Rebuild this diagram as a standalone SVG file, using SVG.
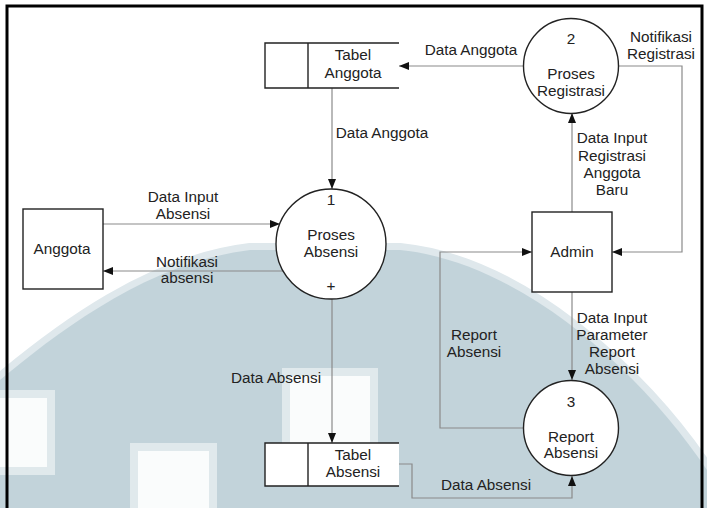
<svg xmlns="http://www.w3.org/2000/svg" width="707" height="508" viewBox="0 0 707 508">
<defs>
<style>
text{font-family:"Liberation Sans",Arial,sans-serif;font-size:15.3px;fill:#222;text-anchor:middle}
.c{fill:none;stroke:#8a8a8a;stroke-width:1.2}
.s{fill:#fff;stroke:#222;stroke-width:1.4}
.st{fill:none;stroke:#222;stroke-width:1.4}
.w{fill:#fafcfc;stroke:#e0e9ec;stroke-width:8}
</style>
<marker id="a" viewBox="0 0 10 8" refX="10" refY="4" markerWidth="10" markerHeight="8" markerUnits="userSpaceOnUse" orient="auto">
<path d="M0,0L10,4L0,8z" fill="#111"/>
</marker>
</defs>
<rect width="707" height="508" fill="#fff"/>
<g id="watermark">
<path d="M0,380C60,330 150,262 250,250H400C520,262 640,370 707,470V508H0Z" fill="#c2d3da" stroke="#dfe8ec" stroke-width="14"/>
<path d="M0,380C60,330 150,262 250,250H400C520,262 640,370 707,470V508H0Z" fill="#c2d3da"/>
<rect class="w" x="-4" y="394" width="55" height="77"/>
<rect class="w" x="134" y="447" width="79" height="70"/>
<rect class="w" x="286" y="372" width="88" height="80"/>
</g>
<path d="M7,508V6H702V508" fill="none" stroke="#000" stroke-width="3"/>
<g id="connectors">
<path class="c" d="M524,66H399" marker-end="url(#a)"/>
<path class="c" d="M619,66H682V252H612" marker-end="url(#a)"/>
<path class="c" d="M332,88V189" marker-end="url(#a)"/>
<path class="c" d="M103,224H280" marker-end="url(#a)"/>
<path class="c" d="M283,271H103" marker-end="url(#a)"/>
<path class="c" d="M332,299V443" marker-end="url(#a)"/>
<path class="c" d="M399,464H412V498H572V476" marker-end="url(#a)"/>
<path class="c" d="M572,212V113" marker-end="url(#a)"/>
<path class="c" d="M572,292V380" marker-end="url(#a)"/>
<path class="c" d="M524,428H440V252H532" marker-end="url(#a)"/>
<text x="471" y="55">Data Anggota</text>
<text x="661" y="42">Notifikasi</text>
<text x="661" y="59">Registrasi</text>
<text x="382" y="138">Data Anggota</text>
<text x="183" y="202">Data Input</text>
<text x="183" y="219">Absensi</text>
<text x="187" y="267">Notifikasi</text>
<text x="187" y="283">absensi</text>
<text x="276" y="383">Data Absensi</text>
<text x="486" y="490">Data Absensi</text>
<text x="612" y="143">Data Input</text>
<text x="612" y="161">Registrasi</text>
<text x="612" y="178">Anggota</text>
<text x="612" y="195">Baru</text>
<text x="612" y="323">Data Input</text>
<text x="612" y="340">Parameter</text>
<text x="612" y="357">Report</text>
<text x="612" y="374">Absensi</text>
<text x="474" y="340">Report</text>
<text x="474" y="357">Absensi</text>
</g>
<g id="tabel-anggota">
<rect x="265" y="43" width="134" height="45" fill="#fff"/>
<path class="st" d="M399,43H265V88H399M308,43V88"/>
<text x="353" y="60">Tabel</text>
<text x="353" y="78">Anggota</text>
</g>
<g id="proses-registrasi">
<circle class="s" cx="571" cy="66" r="47.5"/>
<text x="571" y="44">2</text>
<text x="571" y="79">Proses</text>
<text x="571" y="96">Registrasi</text>
</g>
<g id="proses-absensi">
<circle class="s" cx="331" cy="244" r="55"/>
<text x="331" y="205">1</text>
<text x="331" y="240">Proses</text>
<text x="331" y="257">Absensi</text>
<text x="331" y="291">+</text>
</g>
<g id="anggota">
<rect class="s" x="23" y="209" width="80" height="80"/>
<text x="62" y="254">Anggota</text>
</g>
<g id="admin">
<rect class="s" x="532" y="212" width="80" height="80"/>
<text x="572" y="257">Admin</text>
</g>
<g id="tabel-absensi">
<rect x="265" y="443" width="134" height="43" fill="#fff"/>
<path class="st" d="M399,443H265V486H399M308,443V486"/>
<text x="353" y="460">Tabel</text>
<text x="353" y="477">Absensi</text>
</g>
<g id="report-absensi">
<circle class="s" cx="571" cy="428" r="47.5"/>
<text x="571" y="407">3</text>
<text x="571" y="442">Report</text>
<text x="571" y="458">Absensi</text>
</g>
</svg>
